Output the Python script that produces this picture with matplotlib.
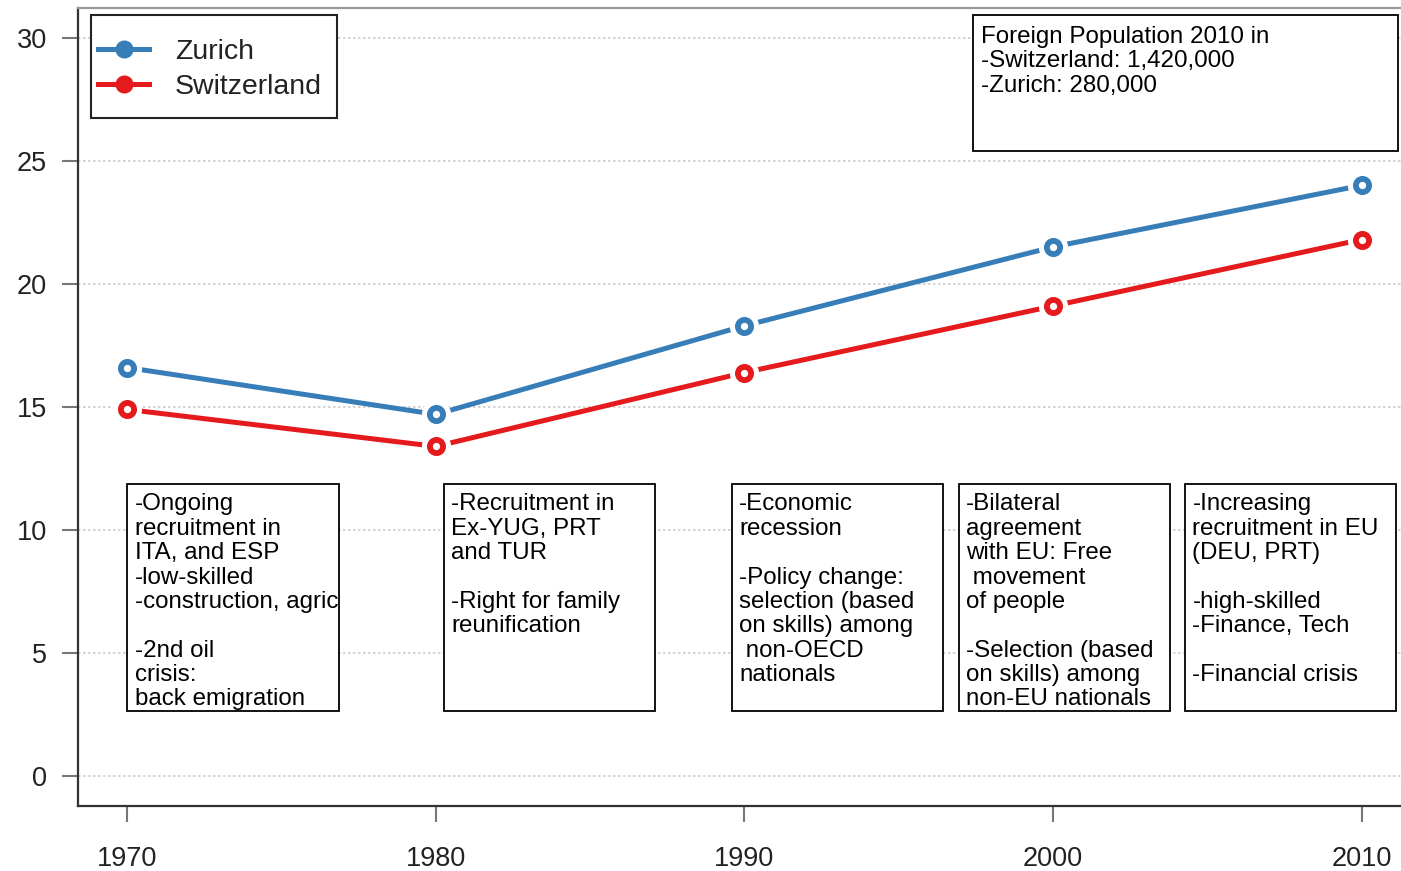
import matplotlib
matplotlib.use("Agg")
import matplotlib.pyplot as plt
from matplotlib.patches import Rectangle

plt.rcParams['font.family'] = ['Liberation Sans', 'DejaVu Sans']

# data
years = [1970, 1980, 1990, 2000, 2010]
zurich = [16.6, 14.7, 18.3, 21.5, 24.0]
switzerland = [14.9, 13.4, 16.4, 19.1, 21.8]
y_ticks = [0, 5, 10, 15, 20, 25, 30]

notes = [
    "-Ongoing\nrecruitment in\nITA, and ESP\n-low-skilled\n-construction, agric\n\n-2nd oil\ncrisis:\nback emigration",
    "-Recruitment in\nEx-YUG, PRT\nand TUR\n\n-Right for family\nreunification",
    "-Economic\nrecession\n\n-Policy change:\nselection (based\non skills) among\n non-OECD\nnationals",
    "-Bilateral\nagreement\nwith EU: Free\n movement\nof people\n\n-Selection (based\non skills) among\nnon-EU nationals",
    "-Increasing\nrecruitment in EU\n(DEU, PRT)\n\n-high-skilled\n-Finance, Tech\n\n-Financial crisis",
]
info_text = "Foreign Population 2010 in\n-Switzerland: 1,420,000\n-Zurich: 280,000"

blue = '#377EB8'
red = '#E41A1C'

W, H = 1401, 871
AW, AH = 1411 - 78, 806 - 8   # axes size in px
fig = plt.figure(figsize=(W / 100, H / 100), dpi=100)
ax = fig.add_axes([78 / W, (H - 806) / H, AW / W, AH / H])
ax.set_xlim(1968.4, 2011.6)
ax.set_ylim(-1.2, 31.2)

# lines with gaps around the points (R type="b" look)
for vals, col in [(zurich, blue), (switzerland, red)]:
    ax.plot(years, vals, color=col, lw=3.6, solid_capstyle='butt', zorder=3)
    ax.plot(years, vals, ls='', marker='o', ms=20, mfc='white', mec='white', zorder=4)
    ax.plot(years, vals, ls='', marker='o', ms=9.5, mfc='white', mec=col, mew=4.2, zorder=5)

# legend (frame drawn separately to get R's roomy box)
h1, = ax.plot([], [], color=blue, lw=3.6, marker='o', ms=12, label='Zurich')
h2, = ax.plot([], [], color=red, lw=3.6, marker='o', ms=12, label='Switzerland')
leg = ax.legend(handles=[h1, h2], loc='upper left',
                bbox_to_anchor=(13 / AW, 1 - 24 / AH),
                fontsize=20.5, frameon=False,
                handlelength=1.8, handletextpad=0.9, labelspacing=0.3,
                borderpad=0.25, borderaxespad=0)
for t in leg.get_texts():
    t.set_color('#222222')
ax.add_patch(Rectangle((13 / AW, 1 - 110 / AH), 246 / AW, 103 / AH, transform=ax.transAxes,
                       facecolor='white', edgecolor='#222222', lw=1.5, zorder=6))
leg.set_zorder(7)

# note boxes
box_left = [1970.0, 1980.25, 1989.58, 1996.94, 2004.27]
box_w = 6.85
box_top, box_bottom = 11.86, 2.64
for x0, txt in zip(box_left, notes):
    ax.add_patch(Rectangle((x0, box_bottom), box_w, box_top - box_bottom,
                           facecolor='white', edgecolor='black', lw=1.3, zorder=2))
    ax.annotate(txt, (x0, box_top), xytext=(5.5, -6.5), textcoords='offset points',
                va='top', ha='left', fontsize=17.4, linespacing=1.14, zorder=6)

# info box top right
ax.add_patch(Rectangle((1997.42, 25.38), 13.75, 30.9 - 25.38,
                       facecolor='white', edgecolor='black', lw=1.3, zorder=2))
ax.annotate(info_text, (1997.42, 30.9), xytext=(5.5, -7.5), textcoords='offset points',
            va='top', ha='left', fontsize=17.4, linespacing=1.14, zorder=6)

# axes styling
ax.set_xticks(years)
ax.set_yticks(y_ticks)
ax.tick_params(axis='both', colors='#777777', labelcolor='#222222', labelsize=19.5,
               length=11.5, width=1.5)
ax.tick_params(axis='y', pad=11)
ax.tick_params(axis='x', pad=17)
ax.yaxis.grid(True, color='#cccccc', ls=(0, (1.5, 1.5)), lw=1.2)
ax.set_axisbelow(True)
for s in ['left', 'bottom']:
    ax.spines[s].set_color('#333333')
    ax.spines[s].set_linewidth(1.6)
ax.spines['top'].set_color('#999999')
ax.spines['top'].set_linewidth(1.6)
ax.spines['right'].set_visible(False)

fig.savefig('out.png', dpi=100)
